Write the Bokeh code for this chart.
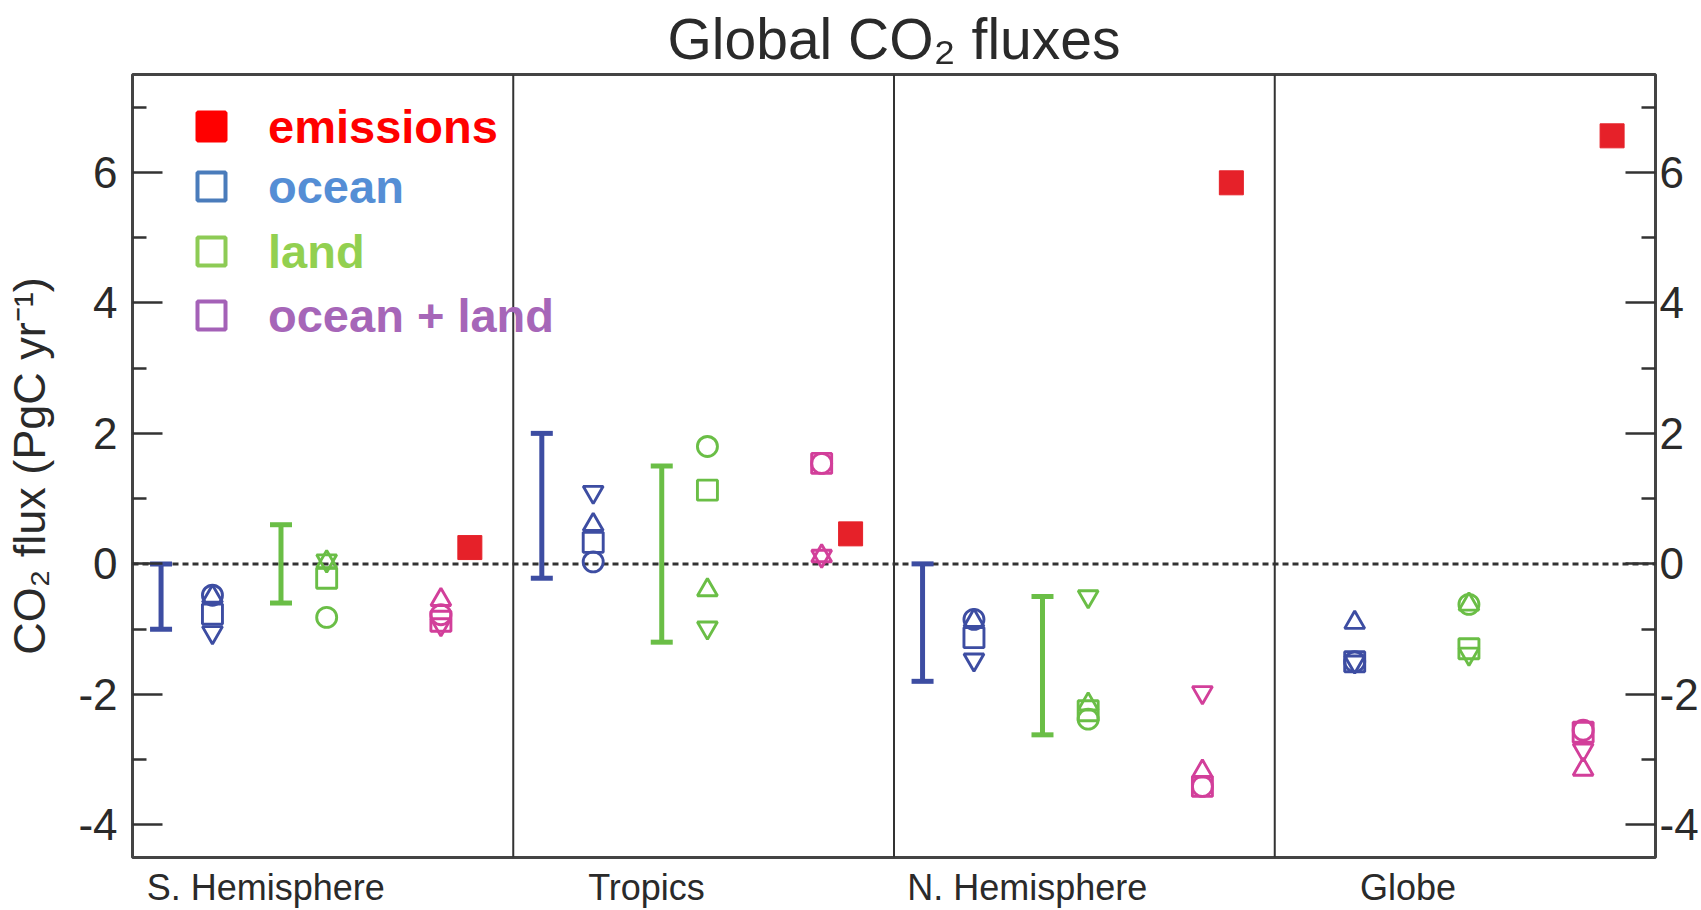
import math
from bokeh.plotting import figure
from bokeh.models import (ColumnDataSource, Span, Whisker, TeeHead, FixedTicker,
                          LinearAxis, Legend, LegendItem)
from bokeh.embed import file_html
from bokeh.resources import INLINE

NaN = float("nan")

# ---------------- data ----------------
regions = ["S. Hemisphere", "Tropics", "N. Hemisphere", "Globe"]
y_ticks = [-4, -2, 0, 2, 4, 6]
y_minor_ticks = [-3, -1, 1, 3, 5, 7]

# four estimates per group, each drawn with its own marker
model_markers = ["circle", "triangle", "square", "inverted_triangle"]

ocean_circle = [-0.48, 0.03, -0.85, -1.50]
ocean_triangle = [-0.50, 0.60, -0.87, -0.90]
ocean_square = [-0.77, 0.33, -1.13, -1.50]
ocean_inv_triangle = [-1.05, 1.10, -1.47, -1.50]

land_circle = [-0.82, 1.80, -2.38, -0.62]
land_triangle = [0.03, -0.40, -2.15, -0.62]
land_square = [-0.22, 1.13, -2.25, -1.30]
land_inv_triangle = [0.05, -0.98, -0.50, -1.38]

ocean_land_circle = [-0.78, 1.54, -3.41, -2.55]
ocean_land_triangle = [-0.55, 0.12, -3.18, -3.15]
ocean_land_square = [-0.88, 1.54, -3.41, -2.58]
ocean_land_inv_triangle = [-0.93, 0.12, -1.97, -2.85]

emissions = [0.25, 0.46, 5.84, 6.56]

ocean_range_low = [-1.0, -0.22, -1.80, NaN]
ocean_range_high = [0.0, 2.00, 0.00, NaN]
land_range_low = [-0.60, -1.20, -2.62, NaN]
land_range_high = [0.60, 1.50, -0.50, NaN]

# ---------------- layout / style ----------------
LABEL_POS = 0.35          # where the region name sits inside its panel
OFF_OCEAN_BAR = 0.075
OFF_OCEAN = 0.21
OFF_LAND_BAR = 0.39
OFF_LAND = 0.51
OFF_OL = 0.81
OFF_EMIS = 0.886

OCEAN_C = "#3D4DA2"
LAND_C = "#6ABE46"
OL_C = "#D23F9A"
EMIS_C = "#E62129"
FONT = "Liberation Sans"
DARK = "#2a2a2a"

W, H = 1701, 910
B_LEFT, B_RIGHT, B_TOP, B_BOTTOM = 132, 44, 74, 53

p = figure(width=W, height=H, x_range=(0, 4), y_range=(-4.5, 7.5),
           output_backend="svg", toolbar_location=None,
           min_border_left=B_LEFT, min_border_right=B_RIGHT,
           min_border_top=B_TOP, min_border_bottom=B_BOTTOM)
p.xgrid.grid_line_color = None
p.ygrid.grid_line_color = None
p.outline_line_color = "#444444"
p.outline_line_width = 3
p.background_fill_color = "white"
p.border_fill_color = "white"

p.title.text = "Global CO\u2082 fluxes"
p.title.text_font = FONT
p.title.text_font_size = "57px"
p.title.text_font_style = "normal"
p.title.text_color = DARK
p.title.align = "center"
p.title.standoff = 8

# x axis: region names inside each panel
xax = p.xaxis[0]
xax.ticker = FixedTicker(ticks=[i + LABEL_POS for i in range(len(regions))])
xax.major_label_overrides = {i + LABEL_POS: r for i, r in enumerate(regions)}
xax.major_tick_in = 0
xax.major_tick_out = 0
xax.minor_tick_in = 0
xax.minor_tick_out = 0
xax.major_tick_line_color = None
xax.minor_tick_line_color = None
xax.axis_line_color = None
xax.major_label_text_font = FONT
xax.major_label_text_font_size = "36px"
xax.major_label_text_color = DARK
xax.major_label_standoff = 9


def style_y(ax):
    ax.ticker = FixedTicker(ticks=y_ticks, minor_ticks=y_minor_ticks)
    ax.major_label_overrides = {t: str(t) for t in y_ticks}
    ax.major_tick_in = 30
    ax.major_tick_out = 0
    ax.minor_tick_in = 14
    ax.minor_tick_out = 0
    ax.major_tick_line_width = 2.5
    ax.minor_tick_line_width = 2.5
    ax.major_tick_line_color = "#333333"
    ax.minor_tick_line_color = "#333333"
    ax.axis_line_color = None
    ax.major_label_text_font = FONT
    ax.major_label_text_font_size = "44px"
    ax.major_label_text_color = DARK


yax = p.yaxis[0]
style_y(yax)
yax.major_label_standoff = 15
yax.axis_label = "CO\u2082 flux (PgC yr\u207b\u00b9)"
yax.axis_label_text_font = FONT
yax.axis_label_text_font_size = "45px"
yax.axis_label_text_font_style = "normal"
yax.axis_label_text_color = DARK
yax.axis_label_standoff = 20

yright = LinearAxis()
style_y(yright)
yright.major_label_standoff = 4
p.add_layout(yright, "right")

# zero line and panel dividers
p.add_layout(Span(location=0, dimension="width", line_color="#333333",
                  line_width=3, line_dash="6 4", level="underlay"))
for i in range(1, len(regions)):
    p.add_layout(Span(location=i, dimension="height", line_color="#333333",
                      line_width=2))


# ranges (error bars)
def add_ranges(lows, highs, offset, color):
    xs, lo, hi = [], [], []
    for i, (a, b) in enumerate(zip(lows, highs)):
        if not (math.isnan(a) or math.isnan(b)):
            xs.append(i + offset)
            lo.append(a)
            hi.append(b)
    src = ColumnDataSource(dict(x=xs, lo=lo, hi=hi))
    w = Whisker(base="x", lower="lo", upper="hi", source=src,
                dimension="height", line_color=color, line_width=5,
                upper_head=TeeHead(size=22, line_width=5, line_color=color),
                lower_head=TeeHead(size=22, line_width=5, line_color=color))
    p.add_layout(w)


add_ranges(ocean_range_low, ocean_range_high, OFF_OCEAN_BAR, OCEAN_C)
add_ranges(land_range_low, land_range_high, OFF_LAND_BAR, LAND_C)


def add_group(series, offset, color):
    xs, ys, ms = [], [], []
    for marker, vals in zip(model_markers, series):
        for i, v in enumerate(vals):
            if not math.isnan(v):
                xs.append(i + offset)
                ys.append(v)
                ms.append(marker)
    src = ColumnDataSource(dict(x=xs, y=ys, m=ms))
    p.scatter(x="x", y="y", marker="m", source=src, size=20,
              fill_color=None, line_color=color, line_width=2.9)


add_group([ocean_circle, ocean_triangle, ocean_square, ocean_inv_triangle],
          OFF_OCEAN, OCEAN_C)
add_group([land_circle, land_triangle, land_square, land_inv_triangle],
          OFF_LAND, LAND_C)
add_group([ocean_land_circle, ocean_land_triangle, ocean_land_square,
           ocean_land_inv_triangle], OFF_OL, OL_C)

emis_src = ColumnDataSource(dict(x=[i + OFF_EMIS for i in range(len(emissions))],
                                 y=emissions))
p.scatter(x="x", y="y", source=emis_src, marker="square", size=24,
          fill_color=EMIS_C, line_color=EMIS_C)

# ---------------- legend (one legend per coloured entry) ----------------
frame_bottom = H - B_BOTTOM
legend_entries = [
    ("emissions", "#FF0000", "#FF0000", "#FF0000", 126),
    ("ocean", None, "#4A7CBB", "#558ED5", 186),
    ("land", None, "#8DCB55", "#92D050", 251),
    ("ocean + land", None, "#A461B7", "#A666B8", 315),
]
for label, fill, line, text_color, yc in legend_entries:
    # legend-only renderer: its single point is NaN, so it draws nothing in the plot
    r = p.scatter(x=[NaN], y=[NaN], marker="square", size=28,
                  fill_color=fill, line_color=line, line_width=4)
    leg = Legend(items=[LegendItem(label=label, renderers=[r])],
                 location=(44, frame_bottom - yc - 35),
                 glyph_width=70, glyph_height=70, label_standoff=22,
                 padding=0, margin=0, border_line_color=None,
                 background_fill_alpha=0,
                 label_text_font=FONT, label_text_font_size="47px",
                 label_text_font_style="bold", label_text_color=text_color)
    p.add_layout(leg)

open("out.html", "w").write(file_html(p, INLINE))
